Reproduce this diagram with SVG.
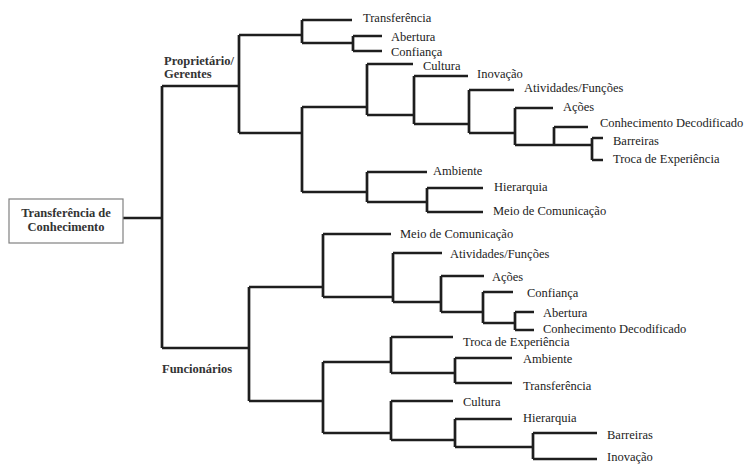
<svg xmlns="http://www.w3.org/2000/svg" width="746" height="465" viewBox="0 0 746 465">
<style>
.e{fill:none;stroke:#1e1e1e;stroke-width:2.7;stroke-linejoin:round;stroke-linecap:butt}
.t{font-family:"Liberation Serif","Times New Roman",serif;font-size:12.5px;fill:#222}
.b{font-family:"Liberation Serif","Times New Roman",serif;font-size:12.5px;font-weight:bold;fill:#333}
.box{fill:#fff;stroke:#808080;stroke-width:1.2}
</style>
<rect width="746" height="465" fill="#fff"/>
<g id="connectors">
<path class="e" d="M123 218H162M162 86V348"/>
<path class="e" d="M162 86H239M239 35V133"/>
<path class="e" d="M239 35H302M302 20V43M302 20H352M302 43H353M353 36V51M353 36H382M353 51H382"/>
<path class="e" d="M239 133H302M302 107V192"/>
<path class="e" d="M302 107H367M367 64V115M367 64H413M367 115H414M414 76V124M414 76H468M414 124H469M469 90V133M469 90H514M469 133H515M515 108V145M515 108H553M515 145H592M554 127V145M554 127H588M592 138V160M592 138H603M592 160H603"/>
<path class="e" d="M302 192H367M367 172V202M367 172H427M367 202H427M427 188V212M427 188H483M427 212H483"/>
<path class="e" d="M162 348H249M249 287V401"/>
<path class="e" d="M249 287H323M323 234V297M323 234H391M323 297H393M393 253V302M393 253H442M393 302H441M441 276V312M441 276H484M441 312H483M483 292V323M483 292H513M483 323H515M515 312V330M515 312H534M515 330H534"/>
<path class="e" d="M249 401H323M323 362V433"/>
<path class="e" d="M323 362H391M391 337V373M391 337H453M391 373H455M455 358V383M455 358H512M455 383H512"/>
<path class="e" d="M323 433H391M391 401V440M391 401H453M391 440H455M455 419V447M455 419H512M455 447H533M533 433V459M533 433H597M533 459H597"/>
</g>
<g id="root">
<rect class="box" x="9" y="199" width="114" height="44"/>
<text class="b" x="66" y="217" text-anchor="middle">Transferência de</text>
<text class="b" x="66" y="231" text-anchor="middle">Conhecimento</text>
</g>
<g id="proprietarios"><text class="b" x="164" y="65">Proprietário/</text><text class="b" x="164" y="78">Gerentes</text></g>
<g id="funcionarios"><text class="b" x="162" y="373">Funcionários</text></g>
<g id="p-transferencia"><text class="t" x="363" y="22">Transferência</text></g>
<g id="p-abertura"><text class="t" x="391" y="41">Abertura</text></g>
<g id="p-confianca"><text class="t" x="391" y="56">Confiança</text></g>
<g id="p-cultura"><text class="t" x="423" y="70">Cultura</text></g>
<g id="p-inovacao"><text class="t" x="477" y="78">Inovação</text></g>
<g id="p-atividades"><text class="t" x="524" y="92">Atividades/Funções</text></g>
<g id="p-acoes"><text class="t" x="563" y="111">Ações</text></g>
<g id="p-conhecimento"><text class="t" x="600" y="127">Conhecimento Decodificado</text></g>
<g id="p-barreiras"><text class="t" x="613" y="145">Barreiras</text></g>
<g id="p-troca"><text class="t" x="613" y="163">Troca de Experiência</text></g>
<g id="p-ambiente"><text class="t" x="433" y="175">Ambiente</text></g>
<g id="p-hierarquia"><text class="t" x="494" y="191">Hierarquia</text></g>
<g id="p-meio"><text class="t" x="493" y="215">Meio de Comunicação</text></g>
<g id="f-meio"><text class="t" x="400" y="238">Meio de Comunicação</text></g>
<g id="f-atividades"><text class="t" x="450" y="258">Atividades/Funções</text></g>
<g id="f-acoes"><text class="t" x="492" y="281">Ações</text></g>
<g id="f-confianca"><text class="t" x="527" y="297">Confiança</text></g>
<g id="f-abertura"><text class="t" x="543" y="317">Abertura</text></g>
<g id="f-conhecimento"><text class="t" x="543" y="333">Conhecimento Decodificado</text></g>
<g id="f-troca"><text class="t" x="463" y="346">Troca de Experiência</text></g>
<g id="f-ambiente"><text class="t" x="523" y="363">Ambiente</text></g>
<g id="f-transferencia"><text class="t" x="523" y="390">Transferência</text></g>
<g id="f-cultura"><text class="t" x="463" y="406">Cultura</text></g>
<g id="f-hierarquia"><text class="t" x="523" y="422">Hierarquia</text></g>
<g id="f-barreiras"><text class="t" x="607" y="439">Barreiras</text></g>
<g id="f-inovacao"><text class="t" x="607" y="461">Inovação</text></g>
</svg>
